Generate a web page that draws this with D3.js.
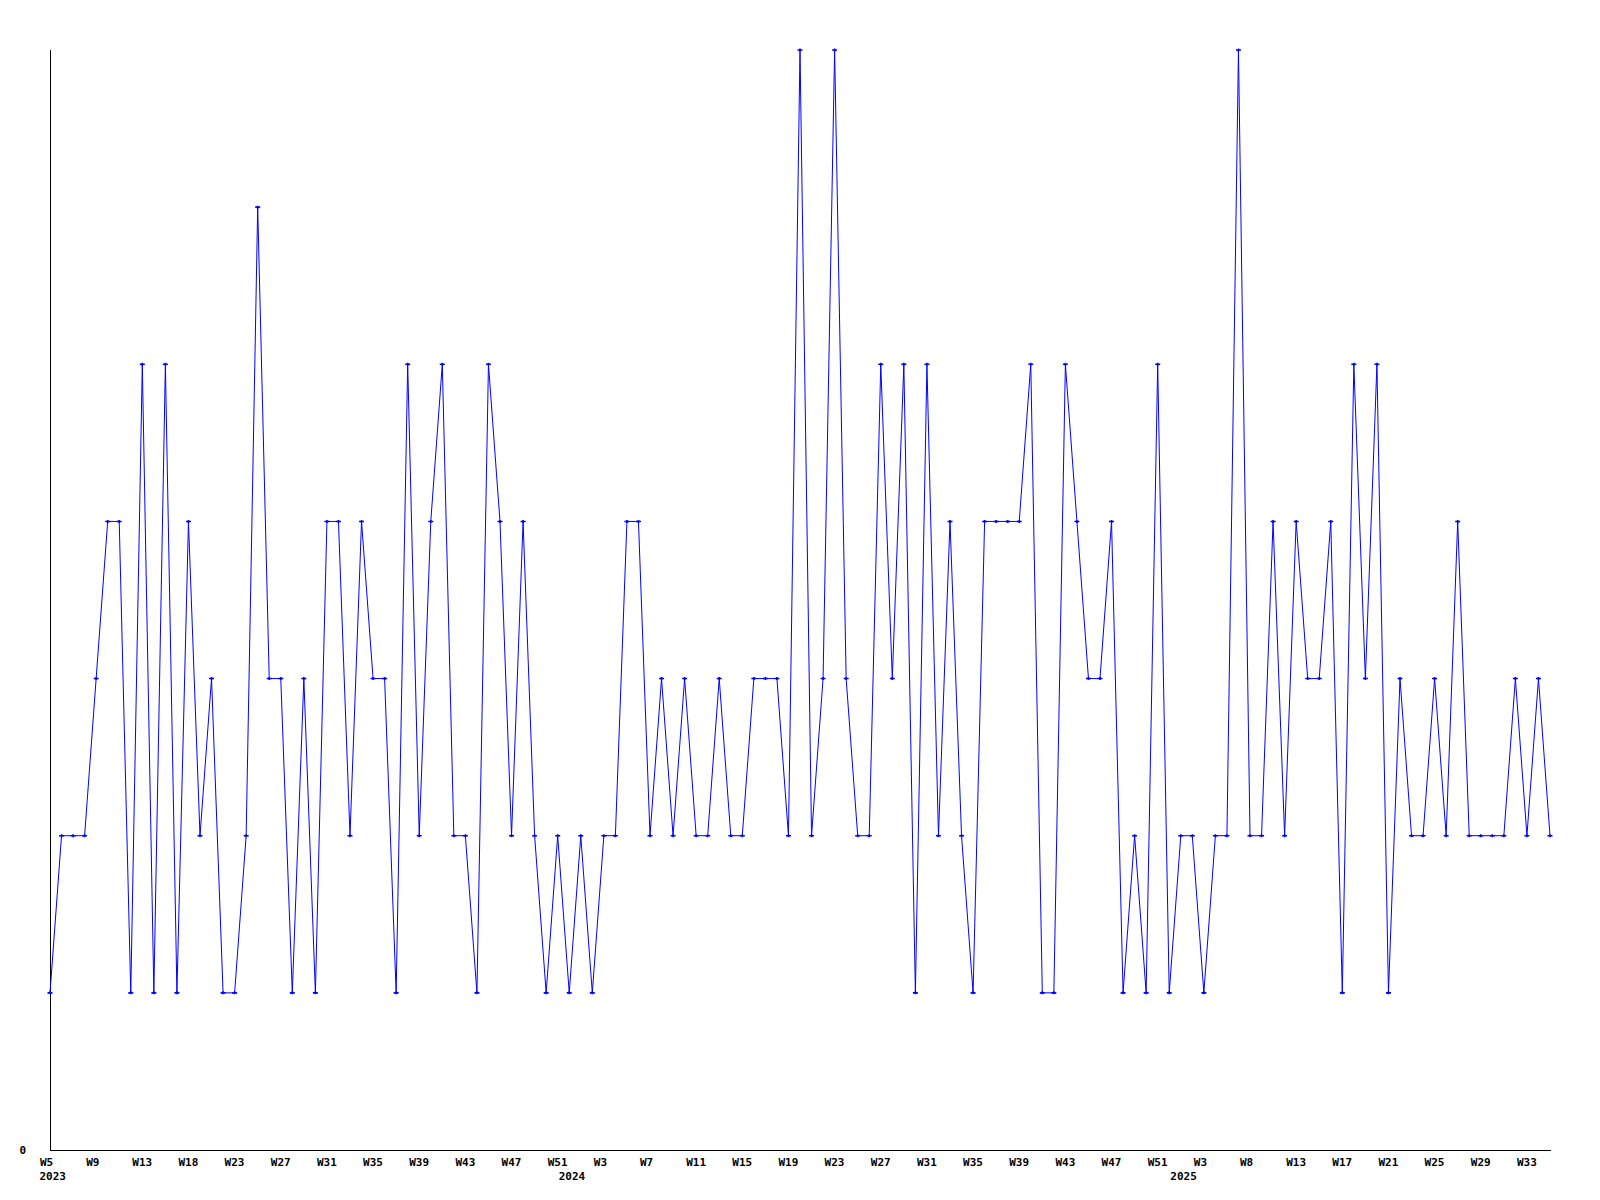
<!DOCTYPE html>
<html>
<head>
<meta charset="utf-8">
<script src="https://cdn.jsdelivr.net/npm/d3@7"></script>
<style>
  html, body { margin: 0; padding: 0; background: #ffffff; }
  svg { display: block; }
  .lbl { font-family: "DejaVu Sans Mono", "Liberation Mono", monospace; font-weight: bold; font-size: 11px; fill: #000; }
</style>
</head>
<body>
<svg id="chart" width="1600" height="1200"></svg>
<script>
// ---- data ----
const values = [
  1,2,2,2,3,4,4,1,5,1, 5,1,4,2,3,1,1,2,6,3,
  3,1,3,1,4,4,2,4,3,3, 1,5,2,4,5,2,2,1,5,4,
  2,4,2,1,2,1,2,1,2,2, 4,4,2,3,2,3,2,2,3,2,
  2,3,3,3,2,7,2,3,7,3, 2,2,5,3,5,1,5,2,4,2,
  1,4,4,4,4,5,1,1,5,4, 3,3,4,1,2,1,5,1,2,2,
  1,2,2,7,2,2,4,2,4,3, 3,4,1,5,3,5,1,3,2,2,
  3,2,4,2,2,2,2,3,2,3, 2
];
const tickLabels = [
  "W5","W9","W13","W18","W23","W27","W31","W35","W39","W43","W47","W51",
  "W3","W7","W11","W15","W19","W23","W27","W31","W35","W39","W43","W47","W51",
  "W3","W8","W13","W17","W21","W25","W29","W33"
];
const tickEvery = 4;
const yearLabels = ["2023", "2024", "2025"];
const yearStartIndex = [0, 45, 98];
const yTicks = [0];
const yMax = 7;

// ---- layout ----
const svg = d3.select("#chart");
const mLeft = 50, mRight = 1550, mTop = 50, mBottom = 1150;

const x = d3.scaleLinear().domain([0, values.length - 1]).range([mLeft, mRight]);
const y = d3.scaleLinear().domain([0, yMax]).range([mBottom, mTop]);

// axes lines
const g = svg.append("g").attr("shape-rendering", "crispEdges");
g.append("line").attr("x1", mLeft + 0.5).attr("x2", mLeft + 0.5)
  .attr("y1", mTop).attr("y2", mBottom + 0.5).attr("stroke", "#000").attr("stroke-width", 1);
g.append("line").attr("x1", mLeft).attr("x2", mRight + 1)
  .attr("y1", mBottom + 0.5).attr("y2", mBottom + 0.5).attr("stroke", "#000").attr("stroke-width", 1);

// x axis labels through d3 axis
const tickIdx = tickLabels.map((_, i) => i * tickEvery);
const xAxis = d3.axisBottom(x)
  .tickValues(tickIdx)
  .tickFormat((d, i) => tickLabels[i])
  .tickSize(0);
const xg = svg.append("g").attr("transform", `translate(0,${mBottom})`).call(xAxis);
xg.select(".domain").remove();
xg.selectAll("text")
  .attr("class", "lbl")
  .attr("text-anchor", "start")
  .attr("x", -10.5)
  .attr("y", 16)
  .attr("dy", null);

// year labels
svg.append("g").selectAll("text")
  .data(yearLabels)
  .join("text")
  .attr("class", "lbl")
  .attr("text-anchor", "start")
  .attr("x", (d, i) => x(yearStartIndex[i]) - 10.5)
  .attr("y", mBottom + 30)
  .text(d => d);

// y axis
const yAxis = d3.axisLeft(y).tickValues(yTicks).tickFormat(d3.format("d")).tickSize(0);
const yg = svg.append("g").attr("transform", `translate(${mLeft},0)`).call(yAxis);
yg.select(".domain").remove();
yg.selectAll("text").attr("class", "lbl").attr("x", -24).attr("dy", "0.32em");

// line
const line = d3.line().x((d, i) => x(i)).y(d => y(d));
svg.append("path")
  .datum(values)
  .attr("fill", "none")
  .attr("stroke", "#0000ff")
  .attr("stroke-width", 1)
  .attr("d", line);

// markers
svg.append("g").selectAll("path")
  .data(values)
  .join("path")
  .attr("transform", (d, i) => `translate(${x(i)},${y(d)})`)
  .attr("d", "M-2.5,0H2.5M0,-1.5V1.5")
  .attr("stroke", "#0000ff")
  .attr("stroke-width", 1.6)
  .attr("fill", "none");
</script>
</body>
</html>
